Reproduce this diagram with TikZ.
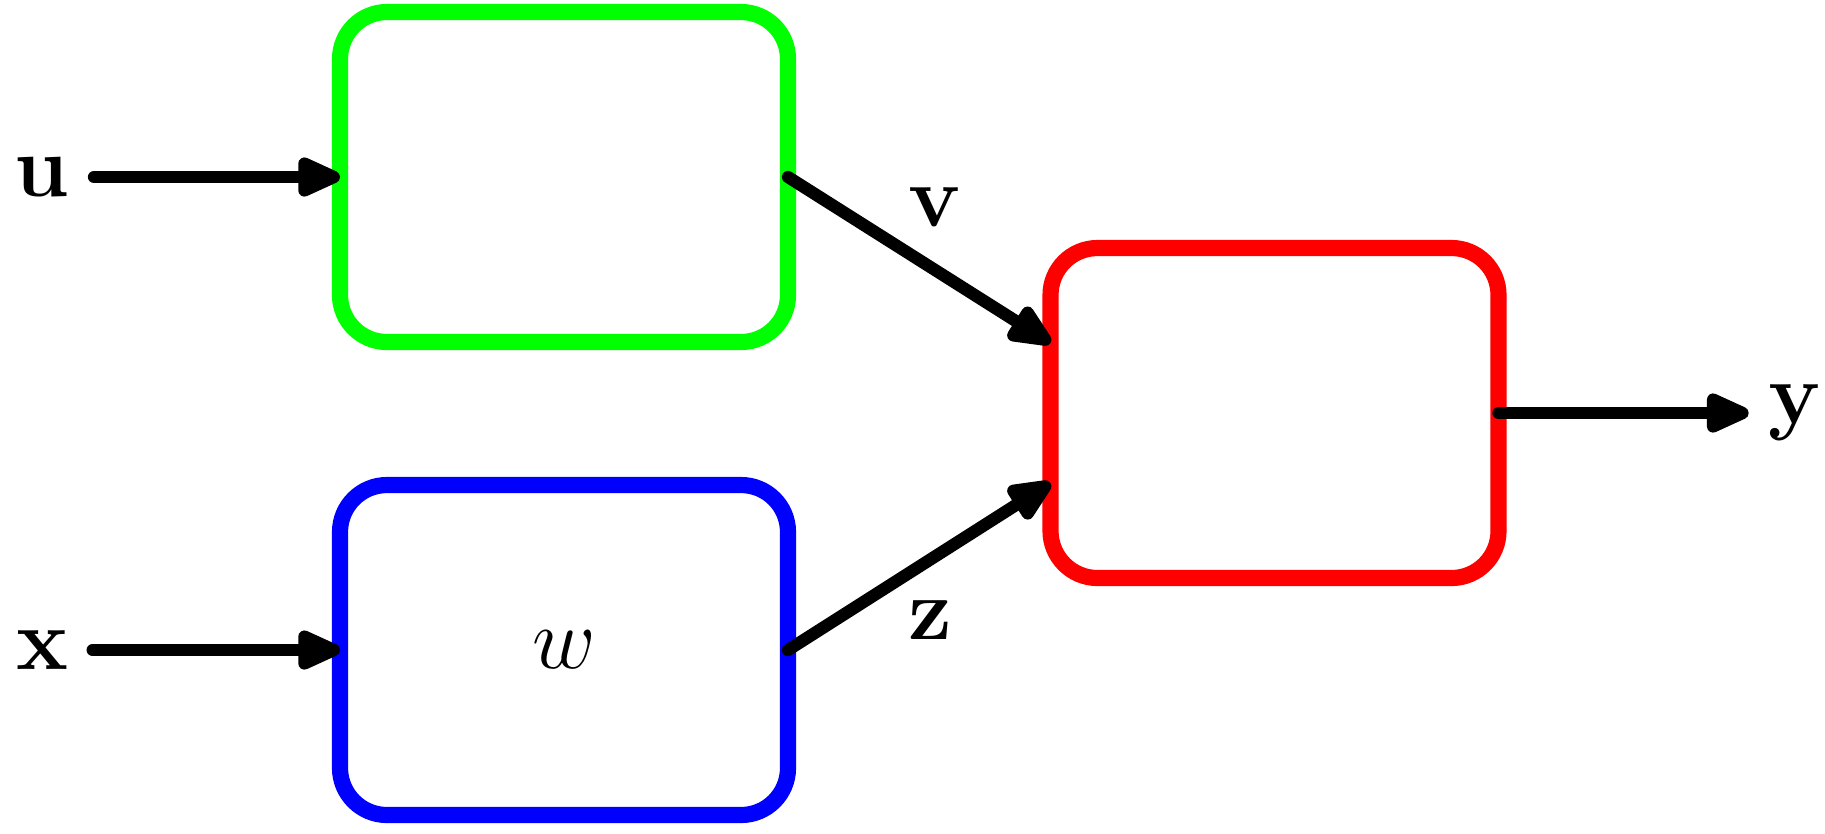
\documentclass[tikz,border=0pt]{standalone}
\usepackage{amsmath,amssymb}
\usepackage{xcolor}
\usepackage{tikz}
\usetikzlibrary{arrows.meta,positioning}

\begin{document}
\begin{tikzpicture}[
  block/.style={draw=#1, line width=4.6pt, rounded corners=0.47cm,
    minimum width=4.48cm, minimum height=3.3cm, outer sep=0pt,
    font=\fontsize{24}{28}\selectfont},
  sig/.style={line width=3.5pt, line cap=round,
    -{Triangle[round, length=0.52cm, width=0.42cm]}},
  lbl/.style={font=\fontsize{24}{28}\selectfont, inner xsep=0.24cm,
    inner ysep=0pt}
]
\useasboundingbox (0,0) rectangle (18.25,-8.33);

% Blocks
\node[block=green] (green) at (5.64,-1.77) {};
\node[block=blue] (blue) at (5.64,-6.50) {$w$};
\node[block=red] (red) at (12.745,-4.13) {};

% Inputs and output
\node[lbl] (u) at (0.42,-1.77) {$\mathbf{u}$};
\node[lbl] (x) at (0.42,-6.50) {$\mathbf{x}$};
\node[lbl, inner xsep=0.19cm] (y) at (17.95,-4.13) {$\mathbf{y}$};

% Signals
\draw[sig] (u) -- (green);
\draw[sig] (x) -- (blue);
\draw[sig] (green.east) -- ([yshift=0.7cm]red.west);
\draw[sig] (blue.east) -- ([yshift=-0.7cm]red.west);
\draw[sig] (red) -- (y);

% Labels
\node[lbl] (v) at (9.35,-2.07) {$\mathbf{v}$};
\node[lbl] (z) at (9.30,-6.20) {$\mathbf{z}$};

\end{tikzpicture}
\end{document}
